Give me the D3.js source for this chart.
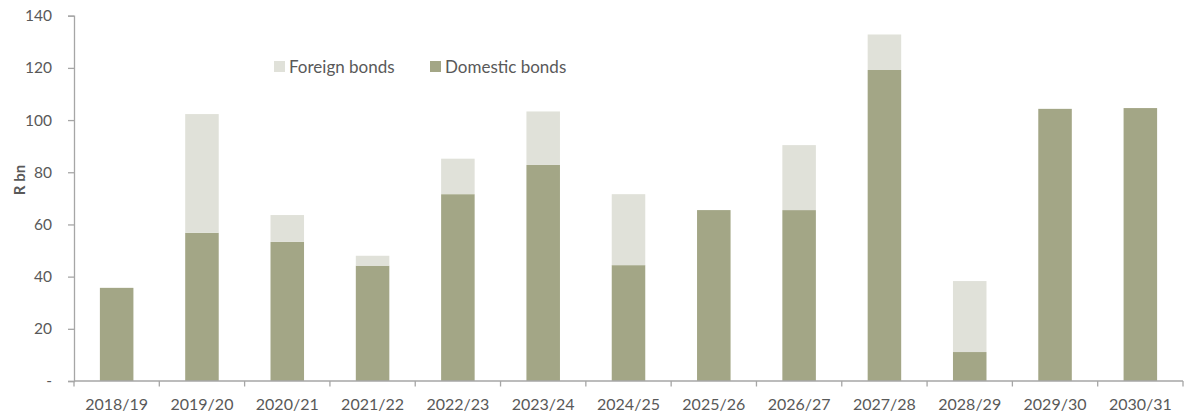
<!DOCTYPE html>
<html>
<head>
<meta charset="utf-8">
<script src="https://cdn.jsdelivr.net/npm/d3@7"></script>
<style>
  html, body { margin: 0; padding: 0; background: #fff; }
  svg { display: block; }
  text { font-family: Lato, "Open Sans", sans-serif; fill: #595959; }
</style>
</head>
<body>
<svg id="chart" width="1184" height="417"></svg>
<script>
const categories = ["2018/19","2019/20","2020/21","2021/22","2022/23","2023/24","2024/25","2025/26","2026/27","2027/28","2028/29","2029/30","2030/31"];
const domestic = [35.7, 56.8, 53.3, 44.2, 71.6, 82.8, 44.4, 65.5, 65.5, 119.2, 11.1, 104.3, 104.6];
const foreign  = [0, 45.5, 10.3, 3.8, 13.6, 20.5, 27.2, 0, 24.9, 13.6, 27.2, 0, 0];
const yTicks = [0, 20, 40, 60, 80, 100, 120, 140];
const seriesNames = ["Domestic bonds", "Foreign bonds"];
const colors = { "Domestic bonds": "#A3A686", "Foreign bonds": "#E0E1D9" };

const svg = d3.select("#chart");
const margin = { left: 74, right: 1, top: 15.7, bottom: 36 };
const W = 1184, H = 417;
const x = d3.scaleBand().domain(categories).range([margin.left, W - margin.right]).paddingInner(0.607).paddingOuter(0.3035);
const xTickScale = d3.scaleBand().domain(categories).range([margin.left, W - margin.right]);
const y = d3.scaleLinear().domain([0, 140]).range([381, 15.7]);

const rows = categories.map((c, i) => ({ cat: c, "Domestic bonds": domestic[i], "Foreign bonds": foreign[i] }));
const stack = d3.stack().keys(seriesNames)(rows);

svg.append("g").selectAll("g").data(stack).join("g")
  .attr("fill", d => colors[d.key])
  .selectAll("rect").data(d => d.filter(p => p[1] - p[0] > 0)).join("rect")
  .attr("x", d => x(d.data.cat))
  .attr("width", x.bandwidth())
  .attr("y", d => y(d[1]))
  .attr("height", d => y(d[0]) - y(d[1]));

const axisColor = "#A6A6A6";
// Y axis
const yAxis = d3.axisLeft(y).tickValues(yTicks).tickSize(6).tickPadding(16)
  .tickFormat(d => d === 0 ? "-" : d);
const gy = svg.append("g").attr("transform", `translate(${margin.left},0)`).call(yAxis);
gy.select(".domain").attr("stroke", axisColor).attr("stroke-width", 1.3);
gy.selectAll(".tick line").attr("stroke", axisColor).attr("stroke-width", 1.3);
gy.selectAll(".tick text").style("font-size", "15.5px").style("font-family", "Lato, sans-serif").attr("fill", "#595959");

// X axis with ticks at band boundaries
const gx = svg.append("g").attr("transform", `translate(0,381)`);
gx.append("line").attr("x1", margin.left).attr("x2", W - margin.right).attr("y1", 0).attr("y2", 0)
  .attr("stroke", axisColor).attr("stroke-width", 1.3);
const boundaries = categories.map(c => xTickScale(c)).concat([xTickScale(categories[categories.length-1]) + xTickScale.bandwidth()]);
gx.selectAll("line.tk").data(boundaries).join("line").attr("class", "tk")
  .attr("x1", d => d).attr("x2", d => d).attr("y1", 0).attr("y2", 5.5)
  .attr("stroke", axisColor).attr("stroke-width", 1.3);
gx.selectAll("text").data(categories).join("text")
  .attr("x", d => xTickScale(d) + xTickScale.bandwidth() / 2)
  .attr("y", 29)
  .attr("text-anchor", "middle")
  .style("font-size", "16px")
  .text(d => d);

// Y title
svg.append("text")
  .attr("transform", "translate(25,180) rotate(-90)")
  .attr("text-anchor", "middle")
  .style("font-size", "15px").style("font-weight", "bold")
  .text("R bn");

// Legend
const legendItems = [
  { name: "Foreign bonds", sx: 274, tx: 289 },
  { name: "Domestic bonds", sx: 430, tx: 445 }
];
const lg = svg.append("g");
legendItems.forEach(it => {
  lg.append("rect").attr("x", it.sx).attr("y", 61).attr("width", 11).attr("height", 11).attr("fill", colors[it.name]);
  lg.append("text").attr("x", it.tx).attr("y", 72.5).style("font-size", "17px").text(it.name);
});
</script>
</body>
</html>
